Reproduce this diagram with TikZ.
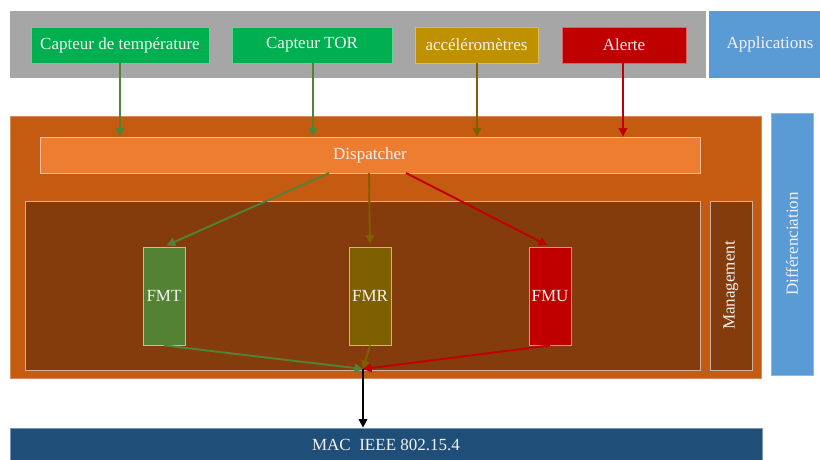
\documentclass[tikz,border=0pt]{standalone}
\usepackage{fontspec}
\setmainfont{Liberation Serif}
\usetikzlibrary{arrows.meta}
\definecolor{cgray}{HTML}{A6A6A6}
\definecolor{cgreen}{HTML}{00B050}
\definecolor{cgold}{HTML}{BF9000}
\definecolor{cred}{HTML}{C00000}
\definecolor{cblue}{HTML}{5B9BD5}
\definecolor{corange}{HTML}{C55A11}
\definecolor{cdisp}{HTML}{ED7D31}
\definecolor{cbrown}{HTML}{843C0C}
\definecolor{cfmt}{HTML}{548235}
\definecolor{colive}{HTML}{7F6000}
\definecolor{cmac}{HTML}{1F4E79}
\definecolor{ctext}{HTML}{F2F2F2}
\tikzset{
  box/.style={rectangle, inner sep=0pt, text=ctext, line width=0.8pt,
    font=\fontsize{17}{20}\selectfont},
  arr/.style={line width=1.9pt, -{Triangle[length=8.5pt,width=8.5pt]}},
}
\begin{document}
\begin{tikzpicture}[x=1pt,y=-1pt]
\useasboundingbox (0,0) rectangle (820,459);
\clip (0,0) rectangle (820,459);
% top layer
\node[box, fill=cgray, minimum width=696pt, minimum height=67pt] (gray) at (358,44.5) {};
\node[box, fill=cblue, minimum width=122pt, minimum height=67pt] (apps) at (770,44.5) {Applications};
\node[box, fill=cgreen, draw=cgreen!60!white, minimum width=178pt, minimum height=36pt] (temp) at (120,45) {Capteur de température};
\node[box, fill=cgreen, draw=cgreen!60!white, minimum width=160pt, minimum height=36pt] (tor) at (312,45) {Capteur TOR};
\node[box, fill=cgold, draw=cgold!60!white, minimum width=123pt, minimum height=36pt] (acc) at (476.5,45) {accéléromètres};
\node[box, fill=cred, draw=cred!60!white, minimum width=124pt, minimum height=36pt] (alerte) at (624,45) {Alerte};
% middle layer
\node[box, fill=corange, draw=corange!70!white, minimum width=751pt, minimum height=262pt] (orange) at (385.5,247) {};
\node[box, fill=cblue, draw=cblue!70!white, minimum width=42pt, minimum height=262pt] (diff) at (792,244) {\rotatebox{90}{Différenciation}};
\node[box, fill=cdisp, draw=cdisp!50!white, minimum width=660pt, minimum height=36pt] (disp) at (370,155) {Dispatcher};
\node[box, fill=cbrown, draw=cbrown!40!white, minimum width=675pt, minimum height=169pt] (dark) at (362.5,285.5) {};
\node[box, fill=cbrown, draw=cbrown!40!white, minimum width=42pt, minimum height=169pt] (mgmt) at (731,285.5) {\rotatebox{90}{Management}};
\node[box, fill=cfmt, draw=cfmt!45!white, minimum width=42pt, minimum height=98pt] (fmt) at (164,296) {FMT};
\node[box, fill=colive, draw=colive!45!white, minimum width=42pt, minimum height=98pt] (fmr) at (370,296) {FMR};
\node[box, fill=cred, draw=cred!45!white, minimum width=42pt, minimum height=98pt] (fmu) at (550,296) {FMU};
% bottom layer
\node[box, fill=cmac, draw=cmac!60!white, minimum width=752pt, minimum height=34pt] (mac) at (386,445) {MAC\ \ IEEE 802.15.4};
\coordinate (merge) at (363,369);
\coordinate (d1) at (329,173);
\coordinate (d2) at (369,173);
\coordinate (d3) at (406,173);
% arrows top
\draw[arr, cfmt] (temp.south) -- (temp.south |- disp.north);
\draw[arr, cfmt] ([xshift=1pt]tor.south) -- ([xshift=1pt]tor.south |- disp.north);
\draw[arr, colive] ([xshift=0.5pt]acc.south) -- ([xshift=0.5pt]acc.south |- disp.north);
\draw[arr, cred] ([xshift=-1pt]alerte.south) -- ([xshift=-1pt]alerte.south |- disp.north);
% dispatcher to FM
\draw[arr, cfmt, shorten >=3pt] (d1) -- (fmt.north);
\draw[arr, colive, shorten >=3pt] (d2) -- (fmr.north);
\draw[arr, cred, shorten >=3pt] (d3) -- (fmu.north);
% FM to merge
\draw[arr, cfmt] (fmt.south) -- (merge);
\draw[arr, colive] (fmr.south) -- (merge);
\draw[arr, cred] (fmu.south) -- (merge);
\draw[arr, black] (merge) -- (merge |- mac.north);
\end{tikzpicture}
\end{document}
